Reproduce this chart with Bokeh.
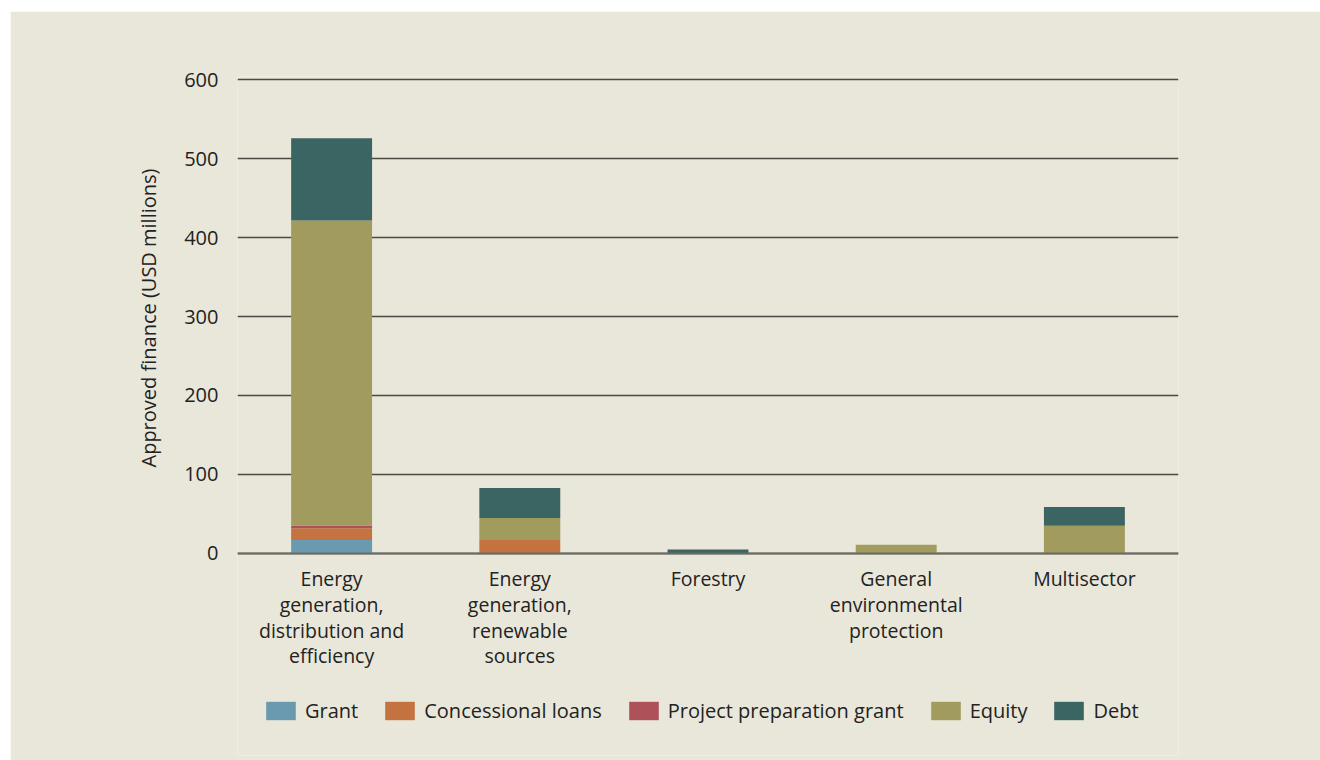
from bokeh.plotting import figure
from bokeh.models import FactorRange, Range1d, Legend, LegendItem, FixedTicker, Title
from bokeh.embed import file_html
from bokeh.resources import INLINE

categories = [
    "Energy\ngeneration,\ndistribution and\nefficiency",
    "Energy\ngeneration,\nrenewable\nsources",
    "Forestry",
    "General\nenvironmental\nprotection",
    "Multisector",
]
series = ["Grant", "Concessional loans", "Project preparation grant", "Equity", "Debt"]
grant = [17, 0, 0, 0, 0]
concessional = [15, 17, 0, 0, 0]
ppg = [3.5, 0, 0, 0, 0]
equity = [386, 28, 0, 11, 35]
debt = [104, 38, 5, 0, 24]
colors = ["#6A9AB0", "#C47240", "#AE5159", "#A19B5D", "#3A6563"]
y_ticks = [0, 100, 200, 300, 400, 500, 600]
y_label = "Approved finance (USD millions)"

BG = "#E9E7DA"
FONT = "Open Sans"
TXT = "#222222"

data = {"cat": categories, "Grant": grant, "Concessional loans": concessional,
        "Project preparation grant": ppg, "Equity": equity, "Debt": debt}

# frame extends below zero to hold the axis labels and legend
p = figure(x_range=FactorRange(*categories, range_padding=0), y_range=Range1d(-255.7, 603.8),
           width=1310, height=749, output_backend="svg", toolbar_location=None,
           min_border_left=227, min_border_right=142, min_border_top=65, min_border_bottom=5)
p.margin = (11, 0, 0, 10)
p.background_fill_color = BG
p.border_fill_color = BG
p.outline_line_color = None

rs = p.vbar_stack(series, x="cat", width=0.43, color=colors, line_width=0, source=data)

p.xgrid.grid_line_color = None
p.ygrid.grid_line_color = "#4a4a44"
p.ygrid.grid_line_width = 1.3
p.yaxis.ticker = FixedTicker(ticks=y_ticks)

p.yaxis.axis_line_color = None
p.yaxis.major_tick_line_color = None
p.yaxis.minor_tick_line_color = None
p.yaxis.major_tick_out = 0
p.yaxis.major_tick_in = 0
p.yaxis.major_label_standoff = 19

ytitle = Title(text=y_label, align="left", offset=288, standoff=40,
               text_font=FONT, text_font_size="20px", text_font_style="normal",
               text_color=TXT)
p.add_layout(ytitle, "left")

p.xaxis.fixed_location = 0
p.xaxis.axis_line_color = "#6a6a62"
p.xaxis.axis_line_width = 2
p.xaxis.major_tick_line_color = None
p.xaxis.minor_tick_line_color = None
p.xaxis.major_tick_out = 0
p.xaxis.major_tick_in = 0
p.xaxis.major_label_standoff = 12
p.xaxis.major_label_text_line_height = 0.95
p.xaxis.major_label_text_align = "center"

p.yaxis.major_label_text_font_size = "20px"
p.xaxis.major_label_text_font_size = "19.5px"
for ax in (p.xaxis, p.yaxis):
    ax.major_label_text_font = FONT
    ax.major_label_text_color = TXT

legend = Legend(items=[LegendItem(label=s, renderers=[r]) for s, r in zip(series, rs)],
                location=(25, 31), orientation="horizontal",
                glyph_width=37, glyph_height=23, label_height=23, label_standoff=6,
                spacing=23, padding=0, margin=0,
                background_fill_alpha=0, border_line_color=None,
                label_text_font=FONT, label_text_font_size="20px", label_text_color=TXT)
p.add_layout(legend, "center")

open("out.html", "w").write(file_html(p, INLINE))
